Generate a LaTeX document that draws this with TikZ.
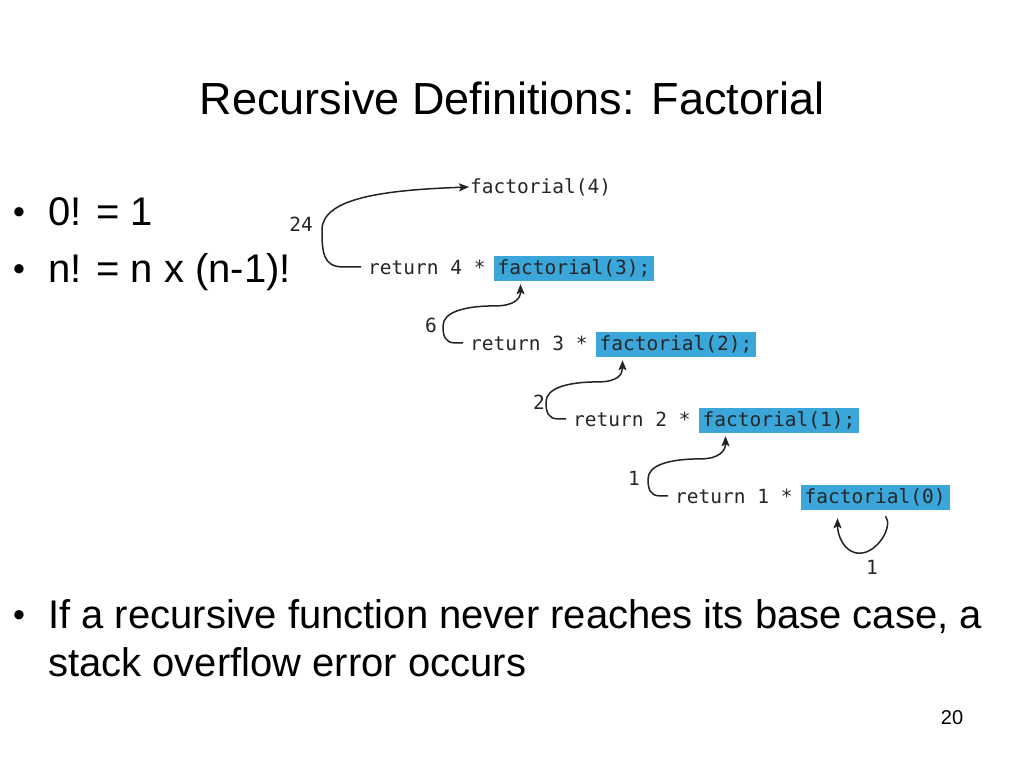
\documentclass[tikz,border=0pt]{standalone}
\usepackage{fontspec}
\setmainfont{Liberation Sans}
\newfontfamily\codefont{DejaVu Sans Mono}
\usetikzlibrary{arrows.meta,positioning}
\definecolor{boxblue}{RGB}{58,166,218}
\definecolor{linegray}{RGB}{35,35,35}

\begin{document}
\begin{tikzpicture}[x=1pt,y=-1pt,
    code/.style={font=\codefont\fontsize{19.5}{22}\selectfont, inner sep=0pt, text=black!85},
    hl/.style={code, fill=boxblue, inner xsep=4pt, inner ysep=3pt, text height=15pt, text depth=4pt},
    call/.style={linegray, line width=1.5pt, -{Stealth[length=10pt,width=8pt,inset=2pt]}},
    bullet/.style={anchor=base west, inner sep=0pt, font=\fontsize{40}{48}\selectfont},
    dot/.style={anchor=base west, inner sep=0pt, font=\fontsize{34}{40}\selectfont}]
  \useasboundingbox[fill=white] (0,0) rectangle (1024,768);

  % title
  \node[anchor=base, font=\fontsize{45}{54}\selectfont] (title) at (512,114) {Recursive Definitions: Factorial};

  % bullets
  \foreach \i/\y in {1/223, 2/280, 3/626}
    \node[dot] (dot\i) at (13,\y) {•};
  \node[bullet] (def0) at (48,225) {0! = 1};
  \node[bullet] (defn) at (48,282) {n! = n x (n-1)!};
  \node[bullet] (note) at (48,628) {If a recursive function never reaches its base case, a};
  \node[bullet] (note2) at (48,676) {stack overflow error occurs};

  % calls
  \node[code, anchor=west] (f4) at (470,187) {factorial(4)};
  \foreach \n/\m/\s/\x/\y in {4/3/;/368/274, 3/2/;/470/350, 2/1/;/573/426, 1/0//675/503} {
    \node[code, anchor=base west] (r\n) at (\x,\y) {return \n{} *};
    \node[hl, base right=7.7pt of r\n] (f\m) {factorial(\m)\s};
  }

  % returned values
  \draw[call] ([xshift=-7pt]r4.west) -- ++(-18,0) .. controls +(-20,0) and +(0,22) .. (322,230)
    .. controls +(0,-32) and +(-85,3) .. ([xshift=-1pt]f4.west);
  \foreach \n in {3,2,1}
    \draw[call] ([xshift=-7pt]r\n.west) -- ++(-8,0) .. controls +(-10,0) and +(0,10) .. ++(-12,-17)
      .. controls +(0,-14) and +(-30,0) .. ++(52,-20)
      .. controls +(20,0) and +(0,14) .. ([shift={(27,3)}]f\n.south west);
  \draw[call] ([shift={(85,6)}]f0.south west) .. controls +(8,10) and +(18,0) .. ++(-26,37)
    .. controls +(-16,0) and +(0,16) .. ([shift={(37,8)}]f0.south west);

  \node[code] (ret4) at (301,224) {24};
  \node[code] (ret3) at (431,325) {6};
  \node[code] (ret2) at (539,402) {2};
  \node[code] (ret1) at (634,478) {1};
  \node[code] (ret0) at (872,567) {1};

  % page number
  \node[anchor=base, font=\fontsize{20}{24}\selectfont] (page) at (952,724) {20};
\end{tikzpicture}
\end{document}
